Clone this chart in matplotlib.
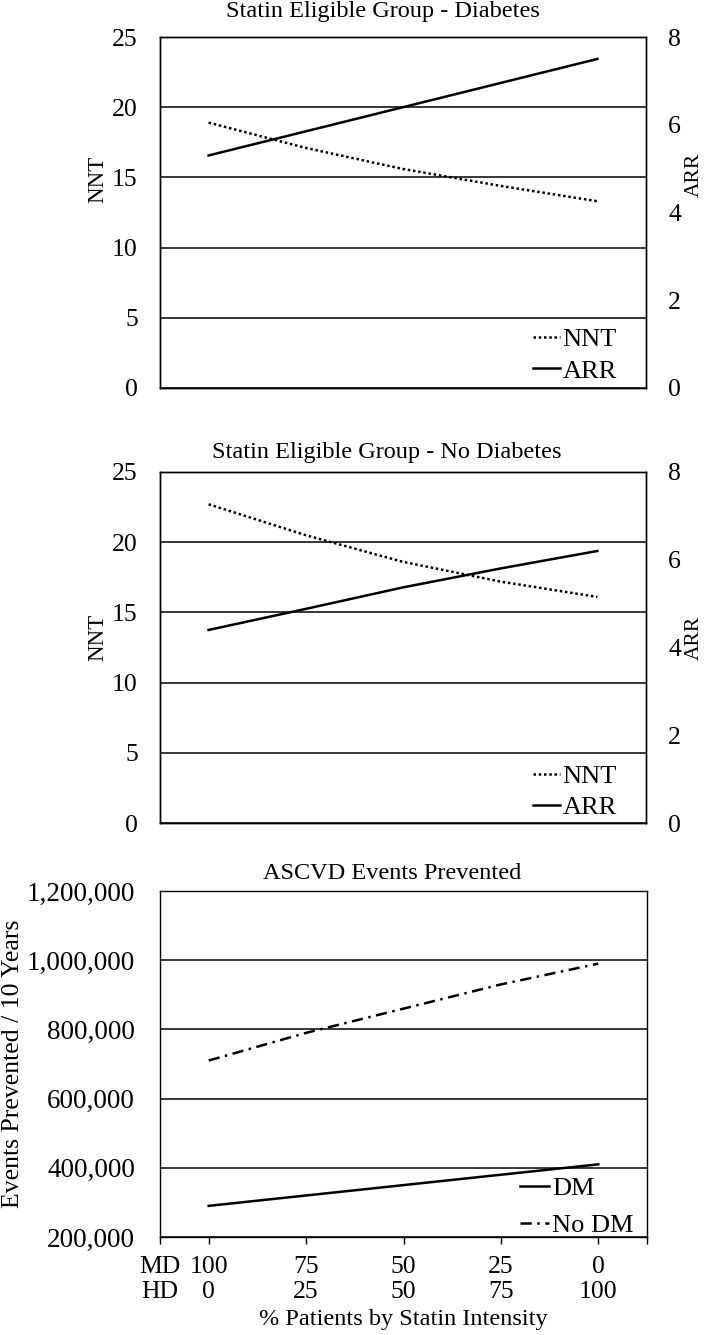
import matplotlib
matplotlib.use("Agg")
import matplotlib.pyplot as plt
from matplotlib.ticker import FuncFormatter

plt.rcParams['font.family'] = ['Liberation Serif', 'DejaVu Serif']

# ---- data ----
categories = [0, 1, 2, 3, 4]
md_labels = ["100", "75", "50", "25", "0"]
hd_labels = ["0", "25", "50", "75", "100"]

dm_nnt = [18.9, 17.1, 15.6, 14.4, 13.3]
dm_arr = [5.30, 5.85, 6.40, 6.95, 7.50]

nodm_nnt = [22.7, 20.5, 18.6, 17.2, 16.1]
nodm_arr = [4.40, 4.88, 5.37, 5.80, 6.20]

events_dm = [290000, 320000, 350000, 380000, 410000]
events_nodm = [710000, 790000, 860000, 930000, 990000]

W, H = 709, 1335
fig = plt.figure(figsize=(W / 100, H / 100), dpi=100)


def rect(l, r, t, b):
    return [l / W, (H - b) / H, (r - l) / W, (b - t) / H]


TICK_FS = 18.5
TITLE_FS = 17.5
LAB_FS = 16.5
LEG_FS = 19
LW = 1.8
GRID_LW = 1.1
DOT = (0, (1, 1.1))
DASHDOT = (0, (4.5, 2.2, 1, 2.2))


def nnt_panel(r, title, title_x, title_pad, nnt, arr, nnt_lab_y, arr_lab_y, leg_anchor):
    ax = fig.add_axes(r)
    ax.set_xlim(-0.5, 4.5)
    ax.set_ylim(0, 25)
    ax.set_yticks([0, 5, 10, 15, 20, 25])
    ax.set_xticks([])
    ax.yaxis.grid(True, color='black', linewidth=GRID_LW)
    ax.set_axisbelow(True)
    ax.tick_params(axis='y', length=0, pad=16, labelsize=TICK_FS)
    for s in ax.spines.values():
        s.set_color('black')
        s.set_linewidth(1.0)
    ax.set_ylabel("NNT", fontsize=LAB_FS)
    ax.yaxis.set_label_coords(-0.107, nnt_lab_y)
    ax.set_title(title, fontsize=TITLE_FS, x=title_x, pad=title_pad)

    ax2 = ax.twinx()
    ax2.set_ylim(0, 8)
    ax2.set_yticks([0, 2, 4, 6, 8])
    ax2.tick_params(axis='y', length=0, pad=16, labelsize=TICK_FS)
    for s in ax2.spines.values():
        s.set_color('black')
        s.set_linewidth(1.0)
    ax2.set_ylabel("ARR", fontsize=15.5)
    ax2.yaxis.set_label_coords(1.080, arr_lab_y)

    ln, = ax.plot(categories, nnt, color='black', linewidth=LW, linestyle=DOT, label="NNT")
    la, = ax2.plot(categories, arr, color='black', linewidth=LW, linestyle='-', label="ARR")
    ax2.legend([ln, la], ["NNT", "ARR"], loc='lower right', bbox_to_anchor=leg_anchor,
               frameon=False, fontsize=LEG_FS, handlelength=1.0, handletextpad=0.1,
               labelspacing=0.3, borderpad=0, borderaxespad=0)
    return ax


nnt_panel(rect(160, 646, 37, 388), "Statin Eligible Group - Diabetes", 0.459, 14.4,
          dm_nnt, dm_arr, 0.593, 0.607, (0.94, 0.015))
nnt_panel(rect(160, 646, 472, 823), "Statin Eligible Group - No Diabetes", 0.467, 10,
          nodm_nnt, nodm_arr, 0.530, 0.527, (0.94, 0.011))

# ---- panel 3 ----
ax = fig.add_axes(rect(160, 647, 891, 1237))
ax.set_xlim(-0.5, 4.5)
ax.set_ylim(200000, 1200000)
ax.set_yticks([200000, 400000, 600000, 800000, 1000000, 1200000])
ax.yaxis.set_major_formatter(FuncFormatter(lambda v, p: f"{int(v):,}"))
ax.yaxis.grid(True, color='black', linewidth=GRID_LW)
ax.set_axisbelow(True)
ax.tick_params(axis='y', length=0, pad=18, labelsize=19.5)
xt = [-0.5] + categories + [4.5]
xl = ["MD\nHD"] + [f"{m}\n{h}" for m, h in zip(md_labels, hd_labels)] + [""]
ax.set_xticks(xt)
ax.set_xticklabels(xl, linespacing=1.15)
ax.tick_params(axis='x', direction='out', length=5, width=1.0, pad=9, labelsize=TICK_FS)
for s in ax.spines.values():
    s.set_color('black')
    s.set_linewidth(1.0)
ax.plot(categories, events_dm, color='black', linewidth=LW, linestyle='-', label="DM")
ax.plot(categories, events_nodm, color='black', linewidth=LW, linestyle=DASHDOT, label="No DM")
ax.legend(loc='lower right', bbox_to_anchor=(0.972, 0.0), frameon=False, fontsize=LEG_FS,
          handlelength=1.1, handletextpad=0.1, labelspacing=0.5, borderpad=0, borderaxespad=0)
ax.set_title("ASCVD Events Prevented", fontsize=TITLE_FS, x=0.476, pad=8.6)
ax.set_ylabel("Events Prevented / 10 Years", fontsize=TICK_FS)
ax.yaxis.set_label_coords(-0.279, 0.5)
ax.set_xlabel("% Patients by Statin Intensity", fontsize=TITLE_FS, labelpad=4)

fig.savefig("out.png", dpi=100)
